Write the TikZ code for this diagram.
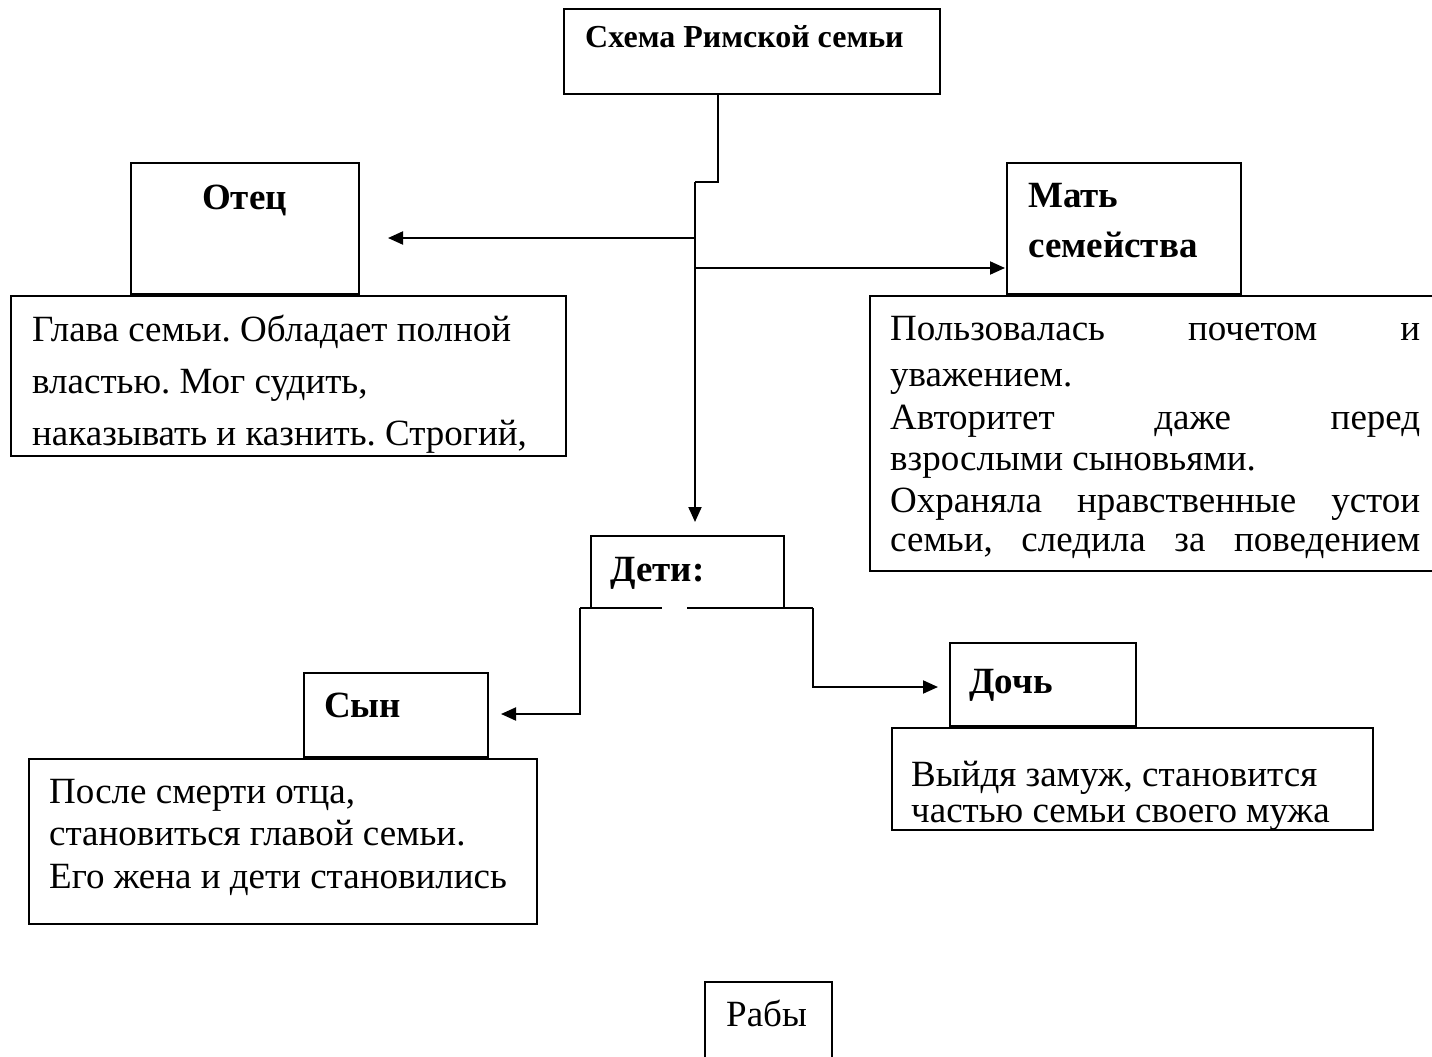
\documentclass[tikz,border=0pt]{standalone}
\usepackage{fontspec}
\setmainfont{Liberation Serif}
\usetikzlibrary{arrows.meta}
\begin{document}
\frenchspacing
\begin{tikzpicture}[x=1pt,y=-1pt,
  box/.style={draw, line width=1.6pt, rectangle, inner sep=0pt, anchor=north west},
  txt/.style={anchor=base west, inner sep=0pt, font=\fontsize{37}{44}\selectfont},
  btxt/.style={anchor=base west, inner sep=0pt, font=\fontsize{37}{44}\selectfont\bfseries},
  ttxt/.style={anchor=base west, inner sep=0pt, font=\fontsize{32}{38}\selectfont\bfseries},
  conn/.style={line width=2pt},
  arr/.style={conn, -{Triangle[length=15pt,width=13pt]}}]
\useasboundingbox (0,0) rectangle (1432,1057);
\fill[white] (0,0) rectangle (1432,1057);

% boxes
\node[box, minimum width=376pt, minimum height=85pt]  (title)    at (563,8) {};
\node[box, minimum width=228pt, minimum height=131pt] (otec)     at (130,162) {};
\node[box, minimum width=555pt, minimum height=160pt] (otecdesc) at (10,295) {};
\node[box, minimum width=234pt, minimum height=131pt] (mat)      at (1006,162) {};
\node[box, minimum width=600pt, minimum height=275pt] (matdesc)  at (869,295) {};
\node[box, minimum width=193pt, minimum height=72pt]  (deti)     at (590,535) {};
\node[box, minimum width=184pt, minimum height=84pt]  (son)      at (303,672) {};
\node[box, minimum width=508pt, minimum height=165pt] (sondesc)  at (28,758) {};
\node[box, minimum width=186pt, minimum height=83pt]  (doch)     at (949,642) {};
\node[box, minimum width=481pt, minimum height=102pt] (dochdesc) at (891,727) {};
\node[box, minimum width=127pt, minimum height=120pt] (raby)     at (704,981) {};

% texts
\node[ttxt] (titleT) at (585,48) {Схема Римской семьи};
\node[btxt] (otecT) at (202,209) {Отец};
\node[txt] (otec1) at (32,341) {Глава семьи. Обладает полной};
\node[txt] (otec2) at (32,393) {властью. Мог судить,};
\node[txt] (otec3) at (32,445) {наказывать и казнить. Строгий,};
\node[btxt] (matT1) at (1028,207) {Мать};
\node[btxt] (matT2) at (1028,257) {семейства};
\node[txt] (mat1) at (890,340) {\hbox to 530pt{Пользовалась\hfill почетом\hfill и}};
\node[txt] (mat2) at (890,386) {уважением.};
\node[txt] (mat3) at (890,429) {\hbox to 530pt{Авторитет\hfill даже\hfill перед}};
\node[txt] (mat4) at (890,470) {взрослыми сыновьями.};
\node[txt] (mat5) at (890,512) {\hbox to 530pt{Охраняла\hfill нравственные\hfill устои}};
\node[txt] (mat6) at (890,551) {\hbox to 530pt{семьи,\hfill следила\hfill за\hfill поведением}};
\node[btxt] (detiT) at (610,581) {Дети:};
\node[btxt] (sonT) at (324,717) {Сын};
\node[txt] (son1) at (49,803) {После смерти отца,};
\node[txt] (son2) at (49,845) {становиться главой семьи.};
\node[txt] (son3) at (49,888) {Его жена и дети становились};
\node[btxt] (dochT) at (969,693) {Дочь};
\node[txt] (doch1) at (911,786) {Выйдя замуж, становится};
\begin{scope}
\clip (891,727) rectangle (1372,829);
\node[txt] (doch2) at (911,822) {частью семьи своего мужа};
\end{scope}
\node[txt] (rabyT) at (726,1026) {Рабы};

% connector points
\coordinate (trunkTop) at (718,93);
\coordinate (jog) at (695,182);
\coordinate (detiTip) at (695,522);
\coordinate (jF) at (695,238);
\coordinate (otecTip) at (388,238);
\coordinate (jM) at (695,268);
\coordinate (matTip) at (1005,268);
\coordinate (dL) at (580,608);
\coordinate (dR) at (813,608);
\coordinate (sonTip) at (501,714);
\coordinate (dochTip) at (938,687);

\draw[conn] (trunkTop) |- (jog);
\draw[arr] (jog) -- (detiTip);
\draw[arr] (jF) -- (otecTip);
\draw[arr] (jM) -- (matTip);
\draw[conn] (dL) -- (dR);
\draw[arr] (dL) |- (sonTip);
\draw[arr] (dR) |- (dochTip);
\fill[white] (662,607) rectangle (687,612);
\end{tikzpicture}
\end{document}
